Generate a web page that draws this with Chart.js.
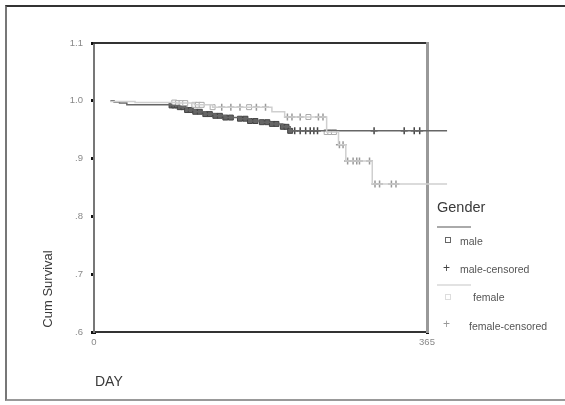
<!DOCTYPE html>
<html>
<head>
<meta charset="utf-8">
<script src="https://cdn.jsdelivr.net/npm/chart.js@4"></script>
<style>
  body { margin: 0; background: #fff; font-family: "Liberation Sans", Arial, sans-serif; overflow: hidden; }
  #wrap { position: relative; width: 565px; height: 405px; overflow: hidden; }
  #frame { position: absolute; left: 5px; top: 5px; width: 570px; height: 396px;
           border-left: 2px solid #777; border-top: 2px solid #333; border-bottom: 2px solid #999; box-sizing: border-box; }
  .txt { position: absolute; color: #3a3a3a; white-space: nowrap; }
  .lg { position: absolute; font-size: 10.5px; color: #555; white-space: nowrap; }
  .ln { position: absolute; height: 2px; width: 34px; }
  .sq { position: absolute; width: 4px; height: 4px; border: 1px solid #666; }
  .plus { position: absolute; font-size: 12px; line-height: 12px; }
</style>
</head>
<body>
<div id="wrap">
  <canvas id="kmChart" width="565" height="405"></canvas>
  <div id="frame"></div>
  <div class="txt" style="top:289px;font-size:13px;transform:translate(-50%,-50%) rotate(-90deg);left:47px;">Cum Survival</div>
  <div class="txt" style="left:95px;top:373px;font-size:14px;">DAY</div>
  <div class="txt" style="left:437px;top:199px;font-size:14.5px;">Gender</div>
  <div class="ln" style="left:437px;top:226px;background:#aaa;"></div>
  <div class="sq" style="left:445px;top:237px;"></div>
  <div class="lg" style="left:460px;top:235px;">male</div>
  <div class="plus" style="left:443px;top:262px;color:#444;">+</div>
  <div class="lg" style="left:460px;top:263px;">male-censored</div>
  <div class="ln" style="left:437px;top:284px;background:#e2e2e2;"></div>
  <div class="sq" style="left:445px;top:294px;border-color:#ddd;"></div>
  <div class="lg" style="left:473px;top:291px;">female</div>
  <div class="plus" style="left:443px;top:318px;color:#999;">+</div>
  <div class="lg" style="left:469px;top:320px;">female-censored</div>
</div>
<script>
// survival step curves (day, cum survival)
const maleDays = [18, 22, 28, 36, 85, 94, 102, 111, 122, 133, 144, 160, 171, 184, 195, 207, 215, 387];
const maleSurv = [1.0, 0.998, 0.996, 0.993, 0.992, 0.989, 0.984, 0.981, 0.977, 0.974, 0.971, 0.969, 0.965, 0.963, 0.960, 0.955, 0.948, 0.948];
const femaleDays = [18, 45, 90, 110, 130, 195, 209, 255, 268, 276, 305, 387];
const femaleSurv = [0.999, 0.997, 0.996, 0.993, 0.989, 0.981, 0.972, 0.946, 0.924, 0.896, 0.856, 0.856];

// event markers (squares)
const maleEventDays = [85, 88, 91, 94, 98, 102, 106, 111, 116, 122, 127, 133, 138, 144, 150, 160, 166, 171, 177, 184, 190, 195, 200, 207, 211, 215];
const maleEventSurv = [0.992, 0.992, 0.992, 0.989, 0.989, 0.984, 0.984, 0.981, 0.981, 0.977, 0.977, 0.974, 0.974, 0.971, 0.971, 0.969, 0.969, 0.965, 0.965, 0.963, 0.963, 0.960, 0.960, 0.955, 0.955, 0.948];
const femaleEventDays = [88, 92, 96, 100, 110, 114, 118, 130, 170, 235, 255, 259, 263];
const femaleEventSurv = [0.997, 0.996, 0.996, 0.996, 0.993, 0.993, 0.993, 0.989, 0.989, 0.972, 0.946, 0.946, 0.946];

// censored markers (+)
const maleCensDays = [220, 226, 232, 237, 241, 245, 307, 340, 351, 357];
const maleCensSurv = [0.948, 0.948, 0.948, 0.948, 0.948, 0.948, 0.948, 0.948, 0.948, 0.948];
const femaleCensDays = [140, 150, 160, 178, 188, 212, 217, 226, 246, 251, 269, 273, 278, 284, 288, 291, 302, 308, 313, 326, 331];
const femaleCensSurv = [0.989, 0.989, 0.989, 0.989, 0.989, 0.972, 0.972, 0.972, 0.972, 0.972, 0.924, 0.924, 0.896, 0.896, 0.896, 0.896, 0.896, 0.856, 0.856, 0.856, 0.856];

// axis ticks
const xTicks = [0, 365];
const yTicks = [0.6, 0.7, 0.8, 0.9, 1.0, 1.1];

function pts(xs, ys) {
    return xs.map(function (x, i) { return { x: x, y: ys[i] }; });
}

const ctx = document.getElementById('kmChart').getContext('2d');
new Chart(ctx, {
    type: 'scatter',
    data: {
        datasets: [{
            label: 'female',
            data: pts(femaleDays, femaleSurv),
            showLine: true, stepped: true,
            borderColor: '#cfcfcf', borderWidth: 1.5,
            pointRadius: 0, clip: false
        }, {
            label: 'male',
            data: pts(maleDays, maleSurv),
            showLine: true, stepped: true,
            borderColor: '#666', borderWidth: 1.5,
            pointRadius: 0, clip: false
        }, {
            label: 'female events',
            data: pts(femaleEventDays, femaleEventSurv),
            pointStyle: 'rect', pointRadius: 3.5,
            borderColor: '#aaa', backgroundColor: '#fff', borderWidth: 1, clip: false
        }, {
            label: 'female-censored',
            data: pts(femaleCensDays, femaleCensSurv),
            pointStyle: 'cross', pointRadius: 3.5,
            borderColor: '#999', borderWidth: 1.5, clip: false
        }, {
            label: 'male events',
            data: pts(maleEventDays, maleEventSurv),
            pointStyle: 'rect', pointRadius: 3.5,
            borderColor: '#444', backgroundColor: '#666', borderWidth: 1, clip: false
        }, {
            label: 'male-censored',
            data: pts(maleCensDays, maleCensSurv),
            pointStyle: 'cross', pointRadius: 3.5,
            borderColor: '#444', borderWidth: 1.5, clip: false
        }]
    },
    options: {
        responsive: false,
        animation: false,
        layout: { padding: { left: 0, top: 43, right: 138, bottom: 0 } },
        plugins: { legend: { display: false }, tooltip: { enabled: false } },
        scales: {
            x: {
                type: 'linear', position: 'bottom', min: 0, max: 365,
                afterBuildTicks: function (s) { s.ticks = xTicks.map(function (v) { return { value: v }; }); },
                afterFit: function (s) { s.height = 73; },
                grid: { drawOnChartArea: false, tickLength: 2, tickWidth: 3, color: '#111' },
                border: { color: '#333', width: 2 },
                ticks: { color: '#888', font: { size: 9.5 }, padding: 3, maxRotation: 0 }
            },
            y: {
                min: 0.6, max: 1.1,
                afterBuildTicks: function (s) { s.ticks = yTicks.map(function (v) { return { value: v }; }); },
                afterFit: function (s) { s.width = 94; },
                grid: { drawOnChartArea: false, tickLength: 3, tickWidth: 3, color: '#111' },
                border: { color: '#777', width: 2 },
                ticks: {
                    color: '#888', font: { size: 9.5 }, padding: 8,
                    callback: function (v) { return v >= 1 ? v.toFixed(1) : v.toFixed(1).replace(/^0/, ''); }
                }
            },
            x2: {
                type: 'linear', position: 'top', min: 0, max: 365,
                afterFit: function (s) { s.height = 0; },
                grid: { display: false }, ticks: { display: false },
                border: { color: '#333', width: 2 }
            },
            y2: {
                position: 'right', min: 0.6, max: 1.1,
                afterFit: function (s) { s.width = 0; },
                grid: { display: false }, ticks: { display: false },
                border: { color: '#999', width: 3 }
            }
        }
    }
});
</script>
</body>
</html>
